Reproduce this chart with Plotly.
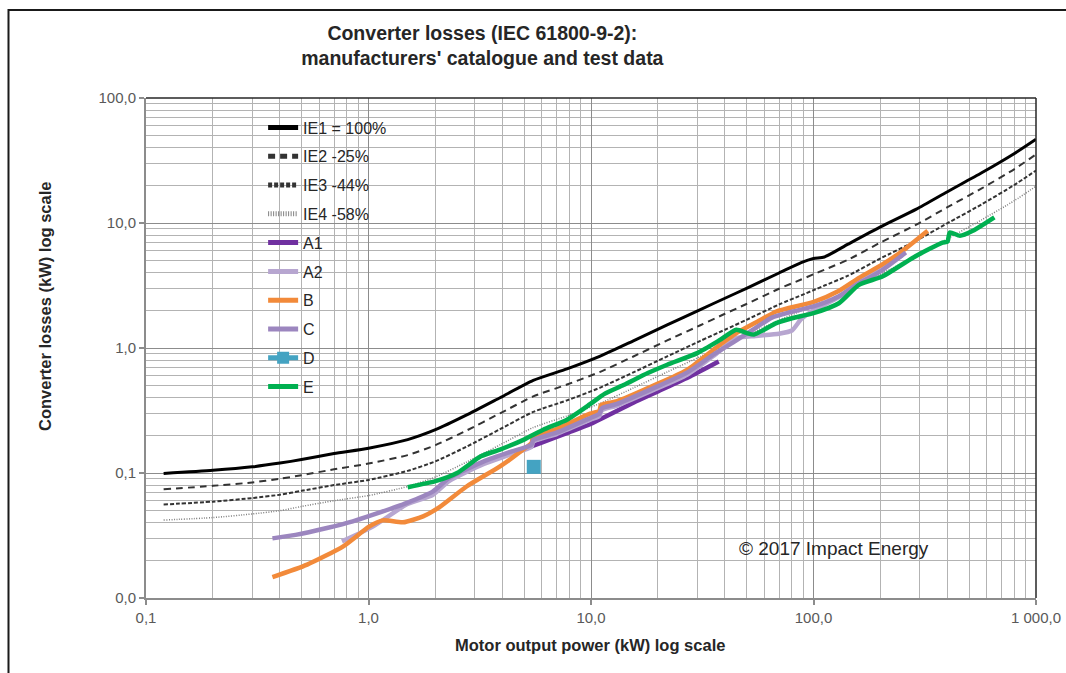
import plotly.graph_objects as go

# ---------------- data ----------------
ie_x = [0.12, 0.2, 0.3, 0.4, 0.5, 0.7, 1.0, 1.5, 2.0, 2.75, 3.9, 5.5, 7.8, 11, 15.5,
        22, 31, 40, 50, 70, 88, 100, 112, 143, 200, 290, 400, 570, 800, 1000]
ie1_y = [0.099, 0.105, 0.112, 0.120, 0.128, 0.143, 0.158, 0.185, 0.222, 0.29, 0.40,
         0.55, 0.68, 0.86, 1.14, 1.53, 2.03, 2.50, 3.00, 3.98, 4.82, 5.20, 5.35, 6.77,
         9.30, 12.9, 17.8, 25.2, 36.0, 46.8]
ie2_y = [0.074, 0.079, 0.084, 0.090, 0.096, 0.107, 0.119, 0.139, 0.167, 0.218, 0.30,
         0.41, 0.51, 0.645, 0.855, 1.15, 1.52, 1.88, 2.25, 2.98, 3.53, 3.89, 4.23, 5.08,
         6.98, 9.7, 13.4, 18.9, 27.0, 35.4]
ie3_y = [0.056, 0.059, 0.063, 0.067, 0.072, 0.080, 0.088, 0.104, 0.124, 0.162, 0.224,
         0.308, 0.381, 0.482, 0.638, 0.857, 1.14, 1.40, 1.68, 2.23, 2.64, 2.90, 3.16, 3.79,
         5.21, 7.22, 9.97, 14.1, 20.2, 26.3]
ie4_y = [0.042, 0.044, 0.047, 0.050, 0.054, 0.060, 0.066, 0.078, 0.093, 0.122, 0.168,
         0.231, 0.286, 0.361, 0.479, 0.643, 0.853, 1.05, 1.26, 1.67, 1.98, 2.18, 2.37, 2.84,
         3.91, 5.42, 7.48, 10.6, 15.1, 19.7]

a1_x = [4.4, 6.0, 8.0, 10.0, 15.5, 20.0, 28.0, 37.5]
a1_y = [0.143, 0.175, 0.212, 0.248, 0.365, 0.45, 0.595, 0.78]

a2_x = [0.76, 1.05, 1.48, 1.95, 2.3, 3.3, 4.3, 5.4, 5.5, 7.0, 10.0, 10.9, 11.2, 13, 19,
        27, 36, 45, 55, 70, 80, 88, 100, 130, 160, 200, 250]
a2_y = [0.0284, 0.0374, 0.0559, 0.067, 0.086, 0.118, 0.14, 0.162, 0.178, 0.205, 0.268,
        0.285, 0.318, 0.345, 0.46, 0.61, 0.88, 1.2, 1.25, 1.3, 1.38, 1.7, 2.0, 2.55, 3.4,
        4.3, 5.5]

b_x = [0.37, 0.53, 0.77, 1.01, 1.16, 1.43, 1.76, 2.06, 2.76, 3.9, 4.96, 5.41, 5.5, 7.0,
       9.9, 10.9, 11.1, 13.1, 19.1, 26.9, 35.5, 45.2, 58, 68, 101, 129, 160, 204, 251, 326]
b_y = [0.0147, 0.0185, 0.0259, 0.0374, 0.0418, 0.0403, 0.045, 0.0525, 0.078, 0.113,
       0.154, 0.175, 0.196, 0.225, 0.298, 0.315, 0.35, 0.375, 0.50, 0.665, 0.969, 1.32,
       1.68, 1.96, 2.35, 2.84, 3.64, 4.66, 5.97, 8.66]

c_x = [0.37, 0.47, 0.65, 0.85, 1.05, 1.48, 1.95, 2.3, 3.3, 4.3, 5.4, 5.5, 7.0, 10.0, 10.9,
       11.2, 13, 19, 27, 36, 45, 55, 65, 80, 100, 130, 160, 200, 260]
c_y = [0.030, 0.032, 0.0363, 0.041, 0.0464, 0.0575, 0.0713, 0.091, 0.124, 0.147, 0.168,
       0.183, 0.21, 0.277, 0.297, 0.33, 0.355, 0.475, 0.635, 0.90, 1.15, 1.45, 1.75, 1.95,
       2.15, 2.6, 3.3, 4.1, 5.8]

d_x = [5.53]
d_y = [0.112]

e_x = [1.5, 2.0, 2.5, 3.2, 3.9, 5.0, 6.1, 7.8, 9.9, 11.5, 14, 18, 22, 30, 38, 45, 50, 54,
       68, 80, 100, 130, 160, 205, 280, 380, 400, 410, 455, 520, 650]
e_y = [0.077, 0.086, 0.10, 0.136, 0.154, 0.185, 0.222, 0.267, 0.355, 0.43, 0.505, 0.63,
       0.735, 0.91, 1.16, 1.4, 1.32, 1.28, 1.58, 1.73, 1.9, 2.28, 3.2, 3.75, 5.28, 6.97,
       7.1, 8.4, 7.9, 8.66, 11.1]

x_tickvals = [0.1, 1, 10, 100, 1000]
x_ticktext = ["0,1", "1,0", "10,0", "100,0", "1 000,0"]
y_tickvals = [0.01, 0.1, 1, 10, 100]
y_ticktext = ["0,0", "0,1", "1,0", "10,0", "100,0"]

title_lines = ["Converter losses (IEC 61800-9-2):", "manufacturers' catalogue and test data"]
x_title = "Motor output power (kW) log scale"
y_title = "Converter losses (kW) log scale"
copyright_text = "© 2017 Impact Energy"

# ---------------- figure ----------------
FONT = "Liberation Sans, Arial, sans-serif"
fig = go.Figure()

series = [
    ("IE1 = 100%", ie_x, ie1_y, dict(color="#000000", width=3)),
    ("IE2 -25%", ie_x, ie2_y, dict(color="#333333", width=2, dash="7px,5px")),
    ("IE3 -44%", ie_x, ie3_y, dict(color="#333333", width=2, dash="4px,2px")),
    ("IE4 -58%", ie_x, ie4_y, dict(color="#808080", width=1.5, dash="1px,1.5px")),
    ("A1", a1_x, a1_y, dict(color="#7030A0", width=4.5)),
    ("A2", a2_x, a2_y, dict(color="#B7A6D0", width=4.5)),
    ("B", b_x, b_y, dict(color="#F28A3A", width=4.5)),
    ("C", c_x, c_y, dict(color="#9C86BF", width=4.5)),
]
for name, xs, ys, ln in series:
    fig.add_trace(go.Scatter(x=xs, y=ys, name=name, mode="lines", legendgroup=name,
                             line=dict(shape="spline", smoothing=0.6, **ln)))

fig.add_trace(go.Scatter(x=d_x, y=d_y, name="D", mode="lines+markers", legendgroup="D",
                         line=dict(color="#44A3C2", width=4.5),
                         marker=dict(symbol="square", size=14, color="#44A3C2")))
fig.add_trace(go.Scatter(x=e_x, y=e_y, name="E", mode="lines", legendgroup="E",
                         line=dict(color="#00B050", width=4.5, shape="spline", smoothing=0.6)))

axis_common = dict(
    type="log", showgrid=True, gridcolor="#8c8c8c", gridwidth=1,
    minor=dict(dtick="D1", showgrid=True, gridcolor="#b3b3b3", gridwidth=1.4, ticks=""),
    ticks="outside", ticklen=5, tickcolor="#8c8c8c", tickwidth=1.5,
    showline=True, linecolor="#8c8c8c", linewidth=2, zeroline=False, automargin=False,
    tickfont=dict(family=FONT, size=15, color="#595959"), tickmode="array",
)
fig.update_xaxes(range=[-1, 3], tickvals=x_tickvals, ticktext=x_ticktext, **axis_common)
fig.update_yaxes(range=[-2, 2], tickvals=y_tickvals, ticktext=y_ticktext, **axis_common)

fig.update_layout(
    width=1066, height=673,
    margin=dict(l=146, r=30, t=98, b=75, autoexpand=False),
    paper_bgcolor="white", plot_bgcolor="white",
    font=dict(family=FONT, color="#262626"),
    title=dict(text="<b>" + title_lines[0] + "<br>" + title_lines[1] + "</b>",
               x=0.4525, xanchor="center", xref="container",
               y=1 - 40 / 673, yanchor="top", yref="container",
               font=dict(family=FONT, size=19.5, color="#262626")),
    legend=dict(x=0.1316, y=0.975, xanchor="left", yanchor="top",
                bgcolor="rgba(0,0,0,0)", traceorder="grouped", tracegroupgap=5,
                itemsizing="constant",
                font=dict(family=FONT, size=16, color="#262626")),
    shapes=[
        # white legend panel and copyright panel (above gridlines, below traces)
        dict(type="rect", xref="paper", yref="paper", x0=0.018, x1=0.3494, y0=0.40, y1=0.974,
             fillcolor="white", line=dict(width=0), layer="between"),
        dict(type="rect", xref="paper", yref="paper", x0=0.6483, x1=0.9427, y0=0.038, y1=0.136,
             fillcolor="white", line=dict(width=0), layer="between"),
        # dark top and right plot borders
        dict(type="line", xref="paper", yref="paper", x0=0, x1=1, y0=1, y1=1,
             line=dict(color="#262626", width=1.5)),
        dict(type="line", xref="paper", yref="paper", x0=1, x1=1, y0=0, y1=1,
             line=dict(color="#262626", width=1.5)),
        # outer chart frame
        dict(type="rect", xref="paper", yref="paper", x0=-0.1545, x1=1.06, y0=-0.17, y1=1.176,
             line=dict(color="#1a1a1a", width=2), fillcolor="rgba(0,0,0,0)"),
    ],
    annotations=[
        dict(text="<b>" + x_title + "</b>", xref="paper", yref="paper", x=0.4994, y=-0.094,
             xanchor="center", yanchor="middle", showarrow=False,
             font=dict(family=FONT, size=16.5, color="#262626")),
        dict(text="<b>" + y_title + "</b>", xref="paper", yref="paper",
             x=(45 - 146) / 890, y=(598 - 307) / 500, textangle=-90,
             xanchor="center", yanchor="middle", showarrow=False,
             font=dict(family=FONT, size=16.5, color="#262626")),
        dict(text=copyright_text, xref="paper", yref="paper", x=0.7725, y=0.10,
             xanchor="center", yanchor="middle", showarrow=False,
             font=dict(family=FONT, size=19, color="#262626")),
    ],
)

fig.write_html("out.html",
               config={"displayModeBar": False},
               post_script="document.body.style.margin='0px';"
                           "document.body.style.overflow='hidden';")
